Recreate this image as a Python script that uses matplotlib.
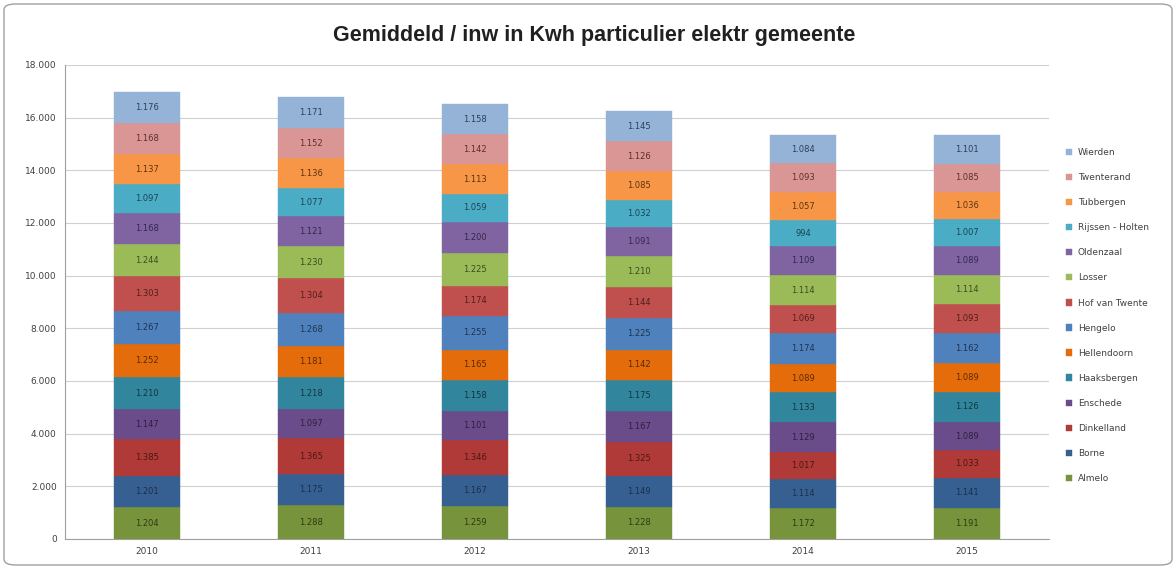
import matplotlib
matplotlib.use("Agg")
import matplotlib.pyplot as plt
import numpy as np
from matplotlib.patches import FancyBboxPatch

years = ["2010", "2011", "2012", "2013", "2014", "2015"]

gemeenten = ["Almelo", "Borne", "Dinkelland", "Enschede", "Haaksbergen",
             "Hellendoorn", "Hengelo", "Hof van Twente", "Losser", "Oldenzaal",
             "Rijssen - Holten", "Tubbergen", "Twenterand", "Wierden"]

# kWh per inwoner, one list per gemeente (2010..2015)
almelo = [1204, 1288, 1259, 1228, 1172, 1191]
borne = [1201, 1175, 1167, 1149, 1114, 1141]
dinkelland = [1385, 1365, 1346, 1325, 1017, 1033]
enschede = [1147, 1097, 1101, 1167, 1129, 1089]
haaksbergen = [1210, 1218, 1158, 1175, 1133, 1126]
hellendoorn = [1252, 1181, 1165, 1142, 1089, 1089]
hengelo = [1267, 1268, 1255, 1225, 1174, 1162]
hof_van_twente = [1303, 1304, 1174, 1144, 1069, 1093]
losser = [1244, 1230, 1225, 1210, 1114, 1114]
oldenzaal = [1168, 1121, 1200, 1091, 1109, 1089]
rijssen_holten = [1097, 1077, 1059, 1032, 994, 1007]
tubbergen = [1137, 1136, 1113, 1085, 1057, 1036]
twenterand = [1168, 1152, 1142, 1126, 1093, 1085]
wierden = [1176, 1171, 1158, 1145, 1084, 1101]

series = [almelo, borne, dinkelland, enschede, haaksbergen, hellendoorn, hengelo,
          hof_van_twente, losser, oldenzaal, rijssen_holten, tubbergen,
          twenterand, wierden]

colors = ["#77933C", "#376092", "#B03A37", "#6B4C8A", "#31859C", "#E46C0A",
          "#4F81BD", "#C0504D", "#9BBB59", "#8064A2", "#4BACC6", "#F79646",
          "#D99694", "#95B3D7"]
text_colors = ["#2F3A14", "#1B2F4A", "#4A1816", "#2E1F3E", "#123640", "#5A2A04",
               "#1F3350", "#501F1E", "#3C4C20", "#33284A", "#1D4550", "#5C3410",
               "#5A3030", "#2C3F5A"]


def dutch(v):
    s = f"{v:,.0f}"
    return s.replace(",", ".")


fig = plt.figure(figsize=(11.76, 5.69), dpi=100)
ax = fig.add_axes([65 / 1176, 1 - 539 / 569, 984 / 1176, 474 / 569])

# outer chart border
fig.patches.append(FancyBboxPatch((4 / 1176, 4 / 569), 1168 / 1176, 561 / 569,
                                  boxstyle="round,pad=0,rounding_size=0.01",
                                  transform=fig.transFigure, fill=False,
                                  edgecolor="#A0A0A0", linewidth=1.0))

x = np.arange(len(years))
bottom = np.zeros(len(years))
handles = []
for name, vals, c, tc in zip(gemeenten, series, colors, text_colors):
    vals = np.array(vals, dtype=float)
    b = ax.bar(x, vals, 0.4, bottom=bottom, color=c, edgecolor=c,
               linewidth=0.3, label=name, zorder=3)
    handles.append(b)
    for xi, v, bt in zip(x, vals, bottom):
        ax.text(xi, bt + v / 2, dutch(v), ha="center", va="center",
                fontsize=6, color=tc, zorder=4)
    bottom += vals

ax.set_xlim(-0.5, len(years) - 0.5)
ax.set_ylim(0, 18000)
ax.set_yticks(np.arange(0, 18001, 2000))
ax.set_yticklabels([dutch(v) for v in np.arange(0, 18001, 2000)])
ax.set_xticks(x)
ax.set_xticklabels(years)
ax.tick_params(axis="both", labelsize=6.5, colors="#404040", length=0, pad=6)
ax.yaxis.grid(True, color="#D0D0D0", linewidth=0.8, zorder=0)
for s in ["top", "right"]:
    ax.spines[s].set_visible(False)
ax.spines["left"].set_color("#A0A0A0")
ax.spines["bottom"].set_color("#A0A0A0")

fig.text(594 / 1176, 1 - 35 / 569, "Gemiddeld / inw in Kwh particulier elektr gemeente",
         ha="center", va="center", fontsize=15.5, fontweight="bold",
         family="Liberation Sans", color="#202020")

leg = fig.legend(handles[::-1], gemeenten[::-1], loc="upper left",
                 bbox_to_anchor=(1058 / 1176, 1 - 140 / 569), frameon=False,
                 fontsize=6.5, handlelength=0.7, handleheight=0.7,
                 labelspacing=1.78, handletextpad=0.6)
for t in leg.get_texts():
    t.set_color("#404040")

fig.savefig("out.png", dpi=100)
